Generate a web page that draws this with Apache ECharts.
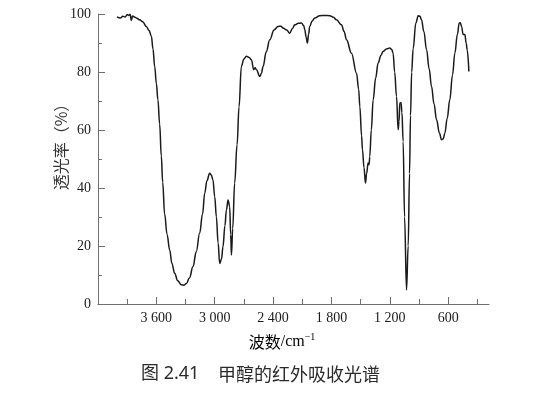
<!DOCTYPE html>
<html lang="zh">
<head>
<meta charset="utf-8">
<title>甲醇的红外吸收光谱</title>
<script src="https://cdn.jsdelivr.net/npm/echarts@6/dist/echarts.min.js"></script>
<style>
  html, body { margin: 0; padding: 0; background: #fff; }
  #chart { width: 539px; height: 395px; }
</style>
</head>
<body>
<div id="chart"></div>
<script>
// wavenumber (cm^-1) and transmittance (%)
let wavenumbers = [4005, 3970, 3945, 3920, 3900, 3885, 3870, 3857, 3845, 3820, 3800, 3772, 3740, 3703, 3675, 3651, 3635, 3617, 3600, 3584,
  3566, 3549, 3535, 3515, 3490, 3463, 3440, 3412, 3380, 3343, 3315, 3291, 3260, 3223, 3190, 3155, 3125, 3103, 3080, 3052,
  3035, 3018, 3000, 2983, 2965, 2949, 2930, 2915, 2895, 2880, 2863, 2846, 2836, 2828, 2815, 2795, 2770, 2750, 2726, 2700,
  2674, 2645, 2623, 2599, 2585, 2571, 2537, 2520, 2503, 2470, 2434, 2390, 2349, 2320, 2298, 2260, 2229, 2200, 2177, 2140,
  2108, 2085, 2074, 2060, 2047, 2035, 2023, 2000, 1971, 1920, 1870, 1817, 1780, 1748, 1697, 1670, 1645, 1594, 1542, 1520,
  1508, 1490, 1481, 1465, 1450, 1438, 1423, 1413, 1406, 1390, 1371, 1345, 1320, 1290, 1269, 1230, 1200, 1180, 1166, 1150,
  1131, 1114, 1105, 1097, 1085, 1075, 1063, 1048, 1028, 1011, 997, 987, 975, 960, 932, 908, 890, 874, 850, 822,
  795, 771, 745, 719, 690, 668, 650, 634, 610, 583, 555, 531, 505, 486, 475, 462, 446, 428, 415, 404, 387];
let transmittance = [99.0, 98.6, 99.2, 99.0, 99.8, 99.5, 99.9, 97.8, 99.3, 98.9, 98.5, 98.0, 97.3, 95.7, 94.3, 92.3, 88, 81.9, 76, 70.4,
  62, 51, 42, 31, 24, 18.6, 14, 10.6, 8, 6.6, 6.5, 7.1, 9, 12.9, 18, 24.4, 31, 38.2, 42.5, 45.1,
  44.5, 42.8, 37, 30.1, 21, 14.0, 15.5, 19.8, 27, 32.4, 35.9, 33.6, 24, 16.9, 26, 41.7, 55, 68, 81.9, 84.5,
  85.4, 85, 84.2, 80.8, 81.5, 80.8, 78.5, 79.5, 81.9, 87, 91.1, 94.5, 95.7, 95.8, 95.2, 94.5, 93.4, 95, 96.3, 96.8,
  96.9, 96, 94.6, 92, 90.0, 93, 95.7, 97.5, 98.6, 99.4, 99.5, 99.4, 98.9, 98.0, 96.3, 94, 91.1, 86.5, 79.6, 74,
  68.1, 58, 53.2, 47, 41.7, 45, 48.6, 48, 50.8, 60, 70.4, 78, 83.1, 85.8, 87.1, 88, 88.3, 87.8, 86.5, 80,
  71.6, 60.1, 63, 69.3, 69.5, 66, 56, 30, 4.8, 20, 45, 65, 80, 88, 96.9, 99.4, 99.2, 98.0, 94, 87.7,
  81, 75.0, 69, 63.5, 59, 56.6, 57, 58.9, 64, 70.4, 79, 86.5, 93, 96.9, 97, 95.7, 92.9, 92.9, 90, 87.7, 80.2];

let xMajorTicks = [3600, 3000, 2400, 1800, 1200, 600];
let xMinorTicks = [3900, 3300, 2700, 2100, 1500, 900, 300];

let spectrum = wavenumbers.map((w, i) => [w, transmittance[i]]);

let chart = echarts.init(document.getElementById('chart'));

let serif = '"Liberation Serif", "Times New Roman", serif';
let cjk = '"Noto Sans CJK SC", sans-serif';
let axisGray = '#6e6e6e';

let option = {
  animation: false,
  grid: { left: 98, right: 50, top: 14, bottom: 91 },
  xAxis: [
    {
      type: 'value',
      min: 180,
      max: 4200,
      inverse: true,
      splitLine: { show: false },
      axisLine: { lineStyle: { color: axisGray, width: 1 } },
      axisTick: { inside: true, length: 7, customValues: xMajorTicks, lineStyle: { color: axisGray } },
      axisLabel: {
        customValues: xMajorTicks,
        margin: 7,
        fontFamily: serif,
        fontSize: 14,
        color: '#1a1a1a',
        formatter: v => v >= 1000 ? Math.floor(v / 1000) + ' ' + String(v % 1000).padStart(3, '0') : String(v)
      }
    },
    {
      type: 'value',
      min: 180,
      max: 4200,
      inverse: true,
      position: 'bottom',
      splitLine: { show: false },
      axisLine: { show: false },
      axisTick: { inside: true, length: 5, customValues: xMinorTicks, lineStyle: { color: axisGray } },
      axisLabel: { show: false }
    }
  ],
  yAxis: {
    type: 'value',
    min: 0,
    max: 100,
    interval: 20,
    splitLine: { show: false },
    axisLine: { show: true, lineStyle: { color: axisGray, width: 1 } },
    axisTick: { inside: true, length: 7, lineStyle: { color: axisGray } },
    minorTick: { show: true, splitNumber: 2, length: 4, lineStyle: { color: axisGray } },
    axisLabel: { margin: 7, fontFamily: serif, fontSize: 14, color: '#1a1a1a' }
  },
  series: [
    {
      type: 'line',
      data: spectrum,
      showSymbol: false,
      smooth: 0.4,
      smoothMonotone: 'x',
      lineStyle: { color: '#1a1a1a', width: 1.5 }
    }
  ],
  graphic: [
    {
      type: 'text',
      x: 61,
      y: 143,
      rotation: Math.PI / 2,
      style: {
        text: '透光率（%）',
        font: '16px ' + cjk,
        fill: '#333',
        align: 'center',
        verticalAlign: 'middle'
      }
    },
    {
      type: 'text',
      x: 282,
      y: 342,
      style: {
        text: '{a|波数}{b|/cm}{c|−1}',
        align: 'center',
        verticalAlign: 'middle',
        rich: {
          a: { fontFamily: cjk, fontSize: 16, color: '#222' },
          b: { fontFamily: serif, fontSize: 16, color: '#222' },
          c: { fontFamily: serif, fontSize: 10, color: '#222', padding: [0, 0, 9, 0] }
        }
      }
    },
    {
      type: 'text',
      x: 141,
      y: 374,
      style: {
        text: '图 2.41',
        font: '18px "Noto Sans", ' + cjk,
        fill: '#2a2a2a',
        verticalAlign: 'middle'
      }
    },
    {
      type: 'text',
      x: 218,
      y: 374,
      style: {
        text: '甲醇的红外吸收光谱',
        font: '18px ' + cjk,
        fill: '#2a2a2a',
        verticalAlign: 'middle'
      }
    }
  ]
};

chart.setOption(option);
</script>
</body>
</html>
